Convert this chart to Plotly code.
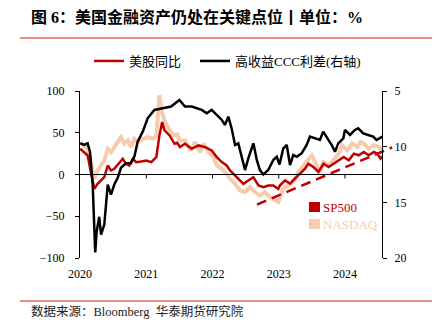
import plotly.graph_objects as go

# ---------------- data ----------------
ccc_dates = ["2020-01-02","2020-01-24","2020-02-12","2020-02-25","2020-03-11","2020-03-20","2020-03-25",
             "2020-04-02","2020-04-16","2020-04-26","2020-05-14","2020-06-02","2020-06-20","2020-07-08",
             "2020-07-27","2020-08-14","2020-09-11","2020-10-08","2020-10-27","2020-11-14","2020-12-12",
             "2021-01-08","2021-02-14","2021-04-01","2021-05-17","2021-07-02","2021-08-02","2021-09-08",
             "2021-10-05","2021-11-02","2021-11-30","2021-12-27","2022-01-24","2022-02-21","2022-03-10",
             "2022-03-29","2022-04-16","2022-05-05","2022-05-23","2022-06-11","2022-06-29","2022-07-17",
             "2022-08-14","2022-09-02","2022-09-19","2022-10-08","2022-11-04","2022-12-02","2022-12-21",
             "2023-01-05","2023-01-26","2023-02-14","2023-03-04","2023-03-22","2023-04-10","2023-05-07",
             "2023-06-04","2023-06-22","2023-07-20","2023-08-16","2023-09-03","2023-09-22","2023-10-20",
             "2023-11-07","2023-11-25","2023-12-23","2024-01-01","2024-01-29","2024-02-25","2024-03-14",
             "2024-04-11","2024-05-08","2024-06-05","2024-06-23","2024-07-12","2024-07-25"]
ccc_values = [9.7,9.85,9.7,10.45,13.4,18.5,19.5,
              17.6,16.3,17.9,17.0,13.4,14.3,13.4,
              12.8,11.9,11.5,11.5,10.9,9.55,8.65,
              7.45,6.7,6.55,6.4,5.8,6.4,6.4,
              6.55,6.7,7.0,6.7,7.15,7.6,8.05,
              7.3,8.35,9.85,9.7,11.05,12.1,11.05,
              9.7,11.2,12.1,12.5,12.1,11.2,10.9,
              11.6,10.15,9.85,11.65,10.75,10.9,10.6,
              9.85,9.1,9.25,9.4,8.65,9.1,9.85,
              10.45,9.7,9.25,8.5,8.95,8.5,8.35,
              8.8,8.95,9.1,9.4,9.25,9.1]

sp_dates = ["2020-01-02","2020-01-24","2020-02-12","2020-03-01","2020-03-20","2020-04-07","2020-04-26",
            "2020-05-14","2020-06-02","2020-06-20","2020-07-08","2020-08-05","2020-08-24","2020-09-11",
            "2020-09-29","2020-10-18","2020-11-06","2020-12-04","2021-01-01","2021-01-28","2021-02-25",
            "2021-03-14","2021-03-29","2021-04-11","2021-05-09","2021-06-05","2021-06-20","2021-07-05",
            "2021-08-02","2021-09-08","2021-10-15","2021-11-21","2021-12-27","2022-01-24","2022-02-21",
            "2022-03-20","2022-04-07","2022-05-05","2022-06-02","2022-06-20","2022-07-17","2022-08-14",
            "2022-09-11","2022-10-08","2022-11-04","2022-12-02","2022-12-29","2023-01-08","2023-02-05",
            "2023-03-04","2023-03-31","2023-04-28","2023-05-26","2023-06-13","2023-07-11","2023-08-08",
            "2023-09-05","2023-10-03","2023-10-30","2023-11-27","2023-12-25","2024-01-22","2024-02-19",
            "2024-03-17","2024-04-14","2024-05-11","2024-06-08","2024-06-27","2024-07-15","2024-07-25"]
sp_values = [30.8,26.8,22.8,2.8,-17.2,-11.2,-7.2,
             -3.2,10.8,4.8,6.8,14.8,18.8,12.8,
             10.8,18.8,14.8,15.6,16.8,14.8,20.8,
             46.8,62.8,52.8,46.8,36.8,38,33,
             36.8,30.8,34.8,32.8,28.8,20.8,14.8,
             10.8,4.8,-1.2,-7.2,-11.2,-7.2,-3.2,
             -13.2,-15.2,-13.2,-13.2,-17.2,-13,-7,
             -11,-5,1,7,13,9,3,
             13,9,13,17,21,17,25,
             23,27,23,27,25,19,22]

nq_dates = ["2020-01-02","2020-01-24","2020-02-12","2020-03-01","2020-03-20","2020-04-07","2020-04-26",
            "2020-05-14","2020-06-02","2020-06-20","2020-07-08","2020-07-27","2020-08-14","2020-09-02",
            "2020-09-21","2020-10-08","2020-10-27","2020-11-14","2020-12-12","2021-01-08","2021-02-06",
            "2021-02-25","2021-03-14","2021-03-27","2021-04-11","2021-05-09","2021-06-05","2021-06-20",
            "2021-07-05","2021-08-02","2021-09-01","2021-09-27","2021-10-24","2021-11-12","2021-12-09",
            "2022-01-06","2022-01-24","2022-02-21","2022-03-20","2022-04-07","2022-05-05","2022-06-02",
            "2022-06-29","2022-07-26","2022-08-23","2022-09-19","2022-10-17","2022-11-13","2022-12-11",
            "2022-12-29","2023-01-26","2023-02-23","2023-03-22","2023-04-19","2023-05-17","2023-06-13",
            "2023-07-02","2023-07-30","2023-08-17","2023-09-05","2023-10-03","2023-10-30","2023-11-27",
            "2023-12-16","2024-01-13","2024-02-10","2024-03-09","2024-03-27","2024-04-14","2024-05-11",
            "2024-06-08","2024-07-06","2024-07-21"]
nq_values = [38.8,34.8,30.8,14.8,-5.2,4.8,10.8,
             16.8,30.8,26.8,32.8,38.8,44.8,36.8,
             40.8,32.8,42.8,38.8,42.8,44.8,42.8,
             46.8,94.8,74.8,64.8,52.8,46.8,48,
             41,40.8,28.8,38.8,26.8,36.8,26.8,
             20.8,10.8,6.8,0.8,-5.2,-11.2,-19.2,
             -21.2,-15.2,-21.2,-25.2,-21.2,-27.2,-31.2,
             -33,-17,-13,-9,3,11,17,
             23,11,3,15,11,17,25,
             35,29,37,33,39,37,31,
             35,33,29]

trend_dates = ["2022-09-03", "2024-09-17"]
trend_values = [-36, 32.4]

year_ticks = ["2020-01-01", "2021-01-01", "2022-01-01", "2023-01-01", "2024-01-01"]
year_labels = ["2020", "2021", "2022", "2023", "2024"]
left_ticks = [-100, -50, 0, 50, 100]
right_ticks = [5, 10, 15, 20]

# ---------------- style ----------------
RED = "#c00000"
PEACH = "#f8cbad"
SERIF = "Liberation Serif, 'Noto Sans CJK SC', serif"
W, H = 443, 335
L, R, T, B = 80, 48, 91, 77
PW, PH = W - L - R, H - T - B


def px(x):
    return (x - L) / PW


def py(y):
    return (H - B - y) / PH


RIGHT_POS = px(382)

fig = go.Figure()
fig.add_trace(go.Scatter(x=nq_dates, y=nq_values, mode="lines", name="NASDAQ",
                         line=dict(color=PEACH, width=4), showlegend=False))
fig.add_trace(go.Scatter(x=sp_dates, y=sp_values, mode="lines", name="美股同比",
                         line=dict(color=RED, width=2.5), legend="legend"))
fig.add_trace(go.Scatter(x=trend_dates, y=trend_values, mode="lines", name="trend",
                         line=dict(color=RED, width=2.5, dash="10px,6px"), showlegend=False))
fig.add_trace(go.Scatter(x=ccc_dates, y=ccc_values, mode="lines", name="高收益CCC利差(右轴)",
                         line=dict(color="black", width=2.5), yaxis="y2", legend="legend2"))

shapes = []
# zero line
shapes.append(dict(type="line", xref="paper", yref="y", x0=0, x1=RIGHT_POS, y0=0, y1=0,
                   line=dict(color="black", width=1)))
# x tick marks on the zero line
for d in year_ticks[1:]:
    shapes.append(dict(type="line", xref="x", yref="y", ysizemode="pixel", yanchor=0,
                       x0=d, x1=d, y0=0, y1=-4, line=dict(color="black", width=1)))
# red separator lines
for yy in (38, 301):
    shapes.append(dict(type="line", xref="paper", yref="paper", x0=px(20), x1=px(432),
                       y0=py(yy), y1=py(yy), line=dict(color="#e06666", width=1.5)))
# inner legend squares
shapes.append(dict(type="rect", xref="paper", yref="paper", x0=px(309), x1=px(320),
                   y0=py(212), y1=py(202), fillcolor=RED, line=dict(width=0)))
shapes.append(dict(type="rect", xref="paper", yref="paper", x0=px(309), x1=px(320),
                   y0=py(229), y1=py(219), fillcolor=PEACH, line=dict(width=0)))

annotations = [
    dict(text="<b>图 6：美国金融资产仍处在关键点位丨单位：%</b>", xref="paper", yref="paper",
         x=px(29), y=py(17), xanchor="left", yanchor="middle", showarrow=False,
         font=dict(family=SERIF, size=16, color="black")),
    dict(text="数据来源：Bloomberg  华泰期货研究院", xref="paper", yref="paper",
         x=px(29), y=py(311), xanchor="left", yanchor="middle", showarrow=False,
         font=dict(family=SERIF, size=12.5, color="#222222")),
    dict(text="SP500", xref="paper", yref="paper", x=px(321), y=py(207),
         xanchor="left", yanchor="middle", showarrow=False,
         font=dict(family=SERIF, size=13, color=RED)),
    dict(text="NASDAQ", xref="paper", yref="paper", x=px(321), y=py(224),
         xanchor="left", yanchor="middle", showarrow=False,
         font=dict(family=SERIF, size=13, color=PEACH)),
]

legend_style = dict(orientation="h", xanchor="left", yanchor="middle",
                    font=dict(family=SERIF, size=13, color="black"),
                    bgcolor="rgba(0,0,0,0)", itemwidth=30)

fig.update_layout(
    width=W, height=H,
    margin=dict(l=L, r=R, t=T, b=B, pad=0),
    paper_bgcolor="white", plot_bgcolor="white",
    font=dict(family=SERIF, size=12, color="black"),
    shapes=shapes, annotations=annotations,
    legend=dict(x=px(89), y=py(61), **legend_style),
    legend2=dict(x=px(195), y=py(61), **legend_style),
    xaxis=dict(type="date", range=["2020-01-01", "2024-10-03"], tickvals=year_ticks,
               ticktext=year_labels, ticks="", showline=False, showgrid=False, zeroline=False,
               tickfont=dict(family=SERIF, size=12), ticklabelstandoff=7),
    yaxis=dict(range=[-100, 100], tickvals=left_ticks, showline=True, linecolor="black",
               linewidth=1, ticks="outside", ticklen=4, tickcolor="black", showgrid=False,
               zeroline=False, tickfont=dict(family=SERIF, size=12), ticklabelstandoff=8),
    yaxis2=dict(range=[20, 5], tickvals=right_ticks, overlaying="y", side="right",
                anchor="free", position=RIGHT_POS, showline=True, linecolor="black",
                linewidth=1, ticks="outside", ticklen=4, tickcolor="black", showgrid=False,
                zeroline=False, tickfont=dict(family=SERIF, size=12), ticklabelstandoff=5),
)

fig.write_html("out.html")
